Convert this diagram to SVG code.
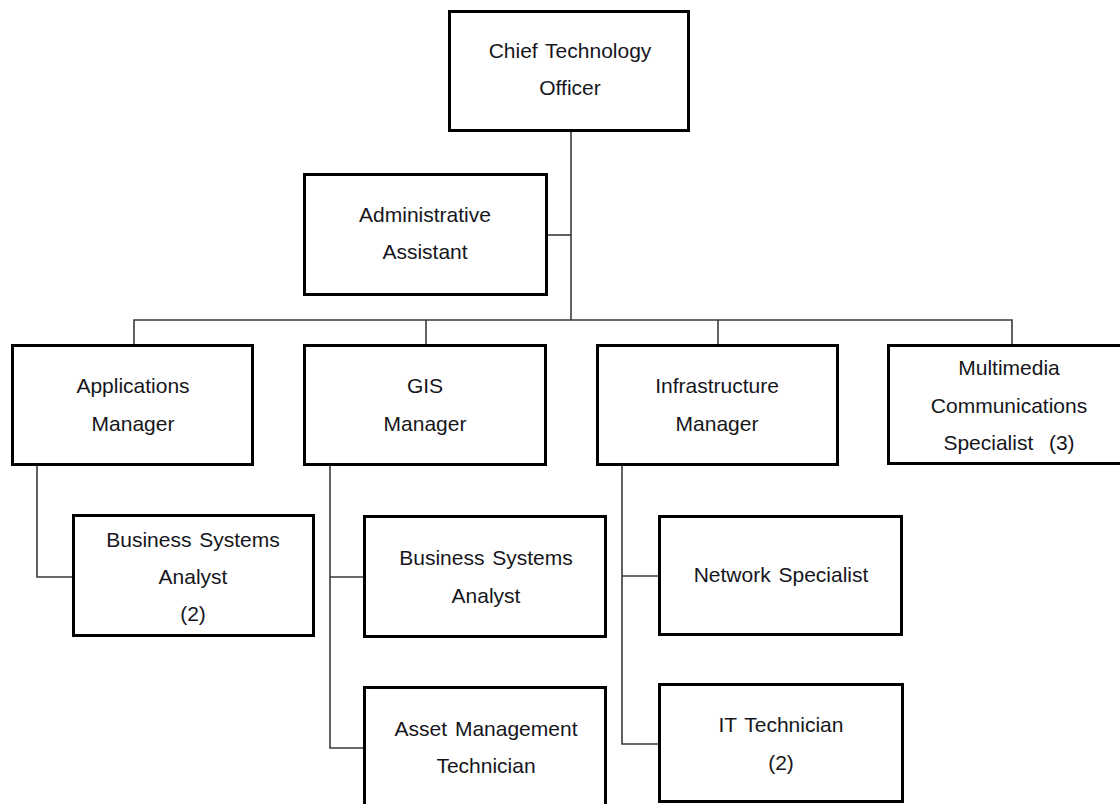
<svg xmlns="http://www.w3.org/2000/svg" width="1120" height="804" viewBox="0 0 1120 804">
<style>
.box{fill:#fff;stroke:#000;stroke-width:3}
.lbl{font-family:"Liberation Sans",Arial,sans-serif;font-size:21px;fill:#16161c;text-anchor:middle;word-spacing:2px}
.con{fill:none;stroke:#3a3a3a;stroke-width:1.6}
</style>
<rect width="1120" height="804" fill="#fff"/>
<g id="connectors">
<path class="con" d="M571,131 V320"/>
<path class="con" d="M547,235 H571"/>
<path class="con" d="M134,345 V320 H1012 V345"/>
<path class="con" d="M426,320 V345"/>
<path class="con" d="M718,320 V345"/>
<path class="con" d="M37,465 V577 H73"/>
<path class="con" d="M330,465 V748 H364"/>
<path class="con" d="M330,577 H364"/>
<path class="con" d="M622,465 V744 H659"/>
<path class="con" d="M622,576 H659"/>
</g>
<g id="cto">
<rect class="box" x="449.5" y="11.5" width="239" height="119"/>
<text class="lbl" x="570" y="58">Chief Technology</text>
<text class="lbl" x="570" y="95">Officer</text>
</g>
<g id="admin">
<rect class="box" x="304.5" y="174.5" width="242" height="120"/>
<text class="lbl" x="425" y="222">Administrative</text>
<text class="lbl" x="425" y="259">Assistant</text>
</g>
<g id="app-manager">
<rect class="box" x="12.5" y="345.5" width="240" height="119"/>
<text class="lbl" x="133" y="393">Applications</text>
<text class="lbl" x="133" y="431">Manager</text>
</g>
<g id="gis-manager">
<rect class="box" x="304.5" y="345.5" width="241" height="119"/>
<text class="lbl" x="425" y="393">GIS</text>
<text class="lbl" x="425" y="431">Manager</text>
</g>
<g id="infra-manager">
<rect class="box" x="597.5" y="345.5" width="240" height="119"/>
<text class="lbl" x="717" y="393">Infrastructure</text>
<text class="lbl" x="717" y="431">Manager</text>
</g>
<g id="multimedia">
<rect class="box" x="888.5" y="345.5" width="240" height="118"/>
<text class="lbl" x="1009" y="375">Multimedia</text>
<text class="lbl" x="1009" y="413">Communications</text>
<text class="lbl" x="1009" y="450">Specialist&#160; (3)</text>
</g>
<g id="bsa-apps">
<rect class="box" x="73.5" y="515.5" width="240" height="120"/>
<text class="lbl" x="193" y="547">Business Systems</text>
<text class="lbl" x="193" y="584">Analyst</text>
<text class="lbl" x="193" y="621">(2)</text>
</g>
<g id="bsa-gis">
<rect class="box" x="364.5" y="516.5" width="241" height="120"/>
<text class="lbl" x="486" y="565">Business Systems</text>
<text class="lbl" x="486" y="603">Analyst</text>
</g>
<g id="asset-tech">
<rect class="box" x="364.5" y="687.5" width="241" height="130"/>
<text class="lbl" x="486" y="736">Asset Management</text>
<text class="lbl" x="486" y="773">Technician</text>
</g>
<g id="network-specialist">
<rect class="box" x="659.5" y="516.5" width="242" height="118"/>
<text class="lbl" x="781" y="582">Network Specialist</text>
</g>
<g id="it-tech">
<rect class="box" x="659.5" y="684.5" width="243" height="117"/>
<text class="lbl" x="781" y="732">IT Technician</text>
<text class="lbl" x="781" y="770">(2)</text>
</g>
</svg>
